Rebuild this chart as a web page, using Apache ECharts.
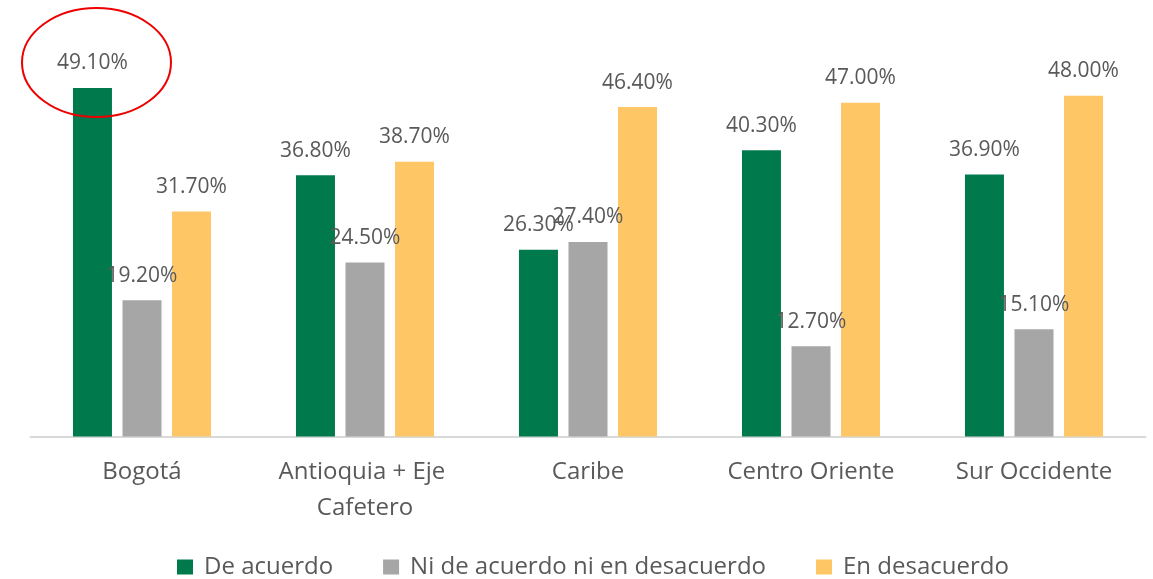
<!DOCTYPE html>
<html>
<head>
<meta charset="utf-8">
<script src="https://cdn.jsdelivr.net/npm/echarts@6/dist/echarts.min.js"></script>
<style>
html,body{margin:0;padding:0;background:#fff;}
#chart{width:1153px;height:579px;}
</style>
</head>
<body>
<div id="chart"></div>
<script>
const categories = ['Bogotá', 'Antioquia + Eje Cafetero', 'Caribe', 'Centro Oriente', 'Sur Occidente'];
const seriesNames = ['De acuerdo', 'Ni de acuerdo ni en desacuerdo', 'En desacuerdo'];
const deAcuerdo = [49.1, 36.8, 26.3, 40.3, 36.9];
const niNi = [19.2, 24.5, 27.4, 12.7, 15.1];
const enDesacuerdo = [31.7, 38.7, 46.4, 47.0, 48.0];
const colors = ['#007A4C', '#A6A6A6', '#FEC665'];

const FONT = '"Open Sans", "Liberation Sans", sans-serif';
const TXT = '#595959';

const chart = echarts.init(document.getElementById('chart'), null, {renderer: 'canvas'});

function mkSeries(name, data, color) {
  return {
    name: name,
    type: 'bar',
    data: data,
    barWidth: 39,
    barGap: '27%',
    itemStyle: {color: color},
    label: {
      show: true,
      position: 'top',
      distance: 14,
      color: TXT,
      fontFamily: FONT,
      fontSize: 21,
      formatter: p => p.value.toFixed(2) + '%'
    },
    emphasis: {disabled: true}
  };
}

chart.setOption({
  animation: false,
  grid: {left: 30.5, right: 7.5, top: 81.5, bottom: 142.5, containLabel: false},
  legend: {
    data: seriesNames,
    left: 172,
    top: 550,
    itemWidth: 16,
    itemHeight: 15,
    itemGap: 50,
    icon: 'rect',
    textStyle: {color: TXT, fontFamily: FONT, fontSize: 24, padding: [0, 0, 0, 6]}
  },
  xAxis: {
    type: 'category',
    data: categories,
    axisLine: {show: true, lineStyle: {color: '#D9D9D9', width: 2}},
    axisTick: {show: false},
    axisLabel: {
      interval: 0,
      margin: 18,
      color: TXT,
      fontFamily: FONT,
      fontSize: 24,
      lineHeight: 36,
      width: 215,
      overflow: 'break'
    }
  },
  yAxis: {
    type: 'value',
    min: 0,
    max: 50,
    show: false,
    splitLine: {show: false}
  },
  series: [
    mkSeries(seriesNames[0], deAcuerdo, colors[0]),
    mkSeries(seriesNames[1], niNi, colors[1]),
    mkSeries(seriesNames[2], enDesacuerdo, colors[2])
  ],
  graphic: [{
    type: 'ellipse',
    shape: {cx: 96.5, cy: 62.5, rx: 74.5, ry: 54.5},
    style: {fill: 'none', stroke: '#EE0000', lineWidth: 2},
    z: 100
  }]
});
</script>
</body>
</html>
